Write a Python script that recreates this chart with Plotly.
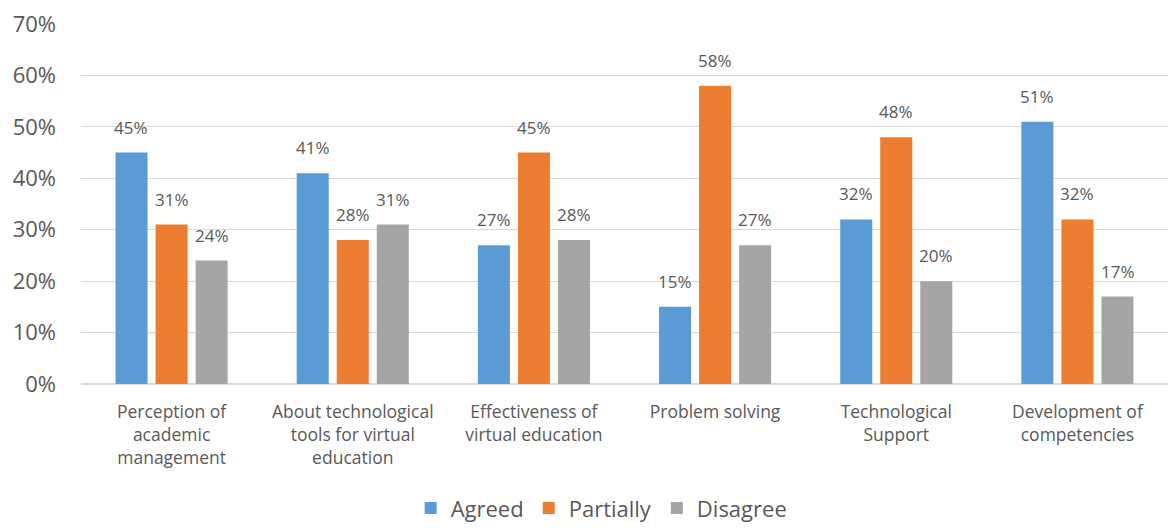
import plotly.graph_objects as go

categories = [
    "Perception of<br>academic<br>management",
    "About technological<br>tools for virtual<br>education",
    "Effectiveness of<br>virtual education",
    "Problem solving",
    "Technological<br>Support",
    "Development of<br>competencies",
]
agreed = [45, 41, 27, 15, 32, 51]
partially = [31, 28, 45, 58, 48, 32]
disagree = [24, 31, 28, 27, 20, 17]
series_names = ["Agreed", "Partially", "Disagree"]
colors = ["#5B9BD5", "#ED7D31", "#A5A5A5"]
tick_vals = [0, 10, 20, 30, 40, 50, 60, 70]
tick_text = [f"{v}%" for v in tick_vals]

FONT = "Open Sans, Liberation Sans, sans-serif"
TXT = "#595959"

fig = go.Figure()
all_vals = [agreed, partially, disagree]
for name, vals, col in zip(series_names, all_vals, colors):
    fig.add_trace(go.Bar(
        x=categories, y=vals, name=name,
        marker=dict(color=col, line=dict(width=0)),
    ))

# data labels placed above each bar (offset by the group slot)
for i, vals in enumerate(all_vals):
    for cat, v in zip(categories, vals):
        fig.add_annotation(
            x=cat, y=v, xref="x", yref="y", text=f"{v}%",
            showarrow=False, xshift=(i - 1) * 40.1, yshift=12,
            yanchor="bottom", xanchor="center",
            font=dict(size=17, color=TXT, family=FONT),
        )

fig.update_layout(
    width=1168, height=529,
    margin=dict(l=81, r=0, t=24, b=145, autoexpand=False),
    paper_bgcolor="white", plot_bgcolor="white",
    barmode="group", bargap=0.337, bargroupgap=0.2,
    font=dict(family=FONT, color=TXT),
    showlegend=True,
    legend=dict(orientation="h", xref="paper", yref="paper",
                x=0.479, y=-0.345, xanchor="center", yanchor="middle",
                font=dict(size=22, color=TXT, family=FONT),
                itemwidth=30, traceorder="normal"),
    xaxis=dict(tickfont=dict(size=17.5, color=TXT, family=FONT),
               showline=True, linecolor="#D9D9D9", linewidth=1, ticks="",
               ticklabelstandoff=12, automargin=False),
    yaxis=dict(range=[0, 70], tickvals=tick_vals, ticktext=tick_text,
               tickfont=dict(size=22, color=TXT, family=FONT),
               showgrid=True, gridcolor="#D9D9D9", gridwidth=1,
               zeroline=True, zerolinecolor="#D9D9D9", ticks="",
               ticklabelstandoff=24, automargin=False),
)

fig.write_html("out.html")
